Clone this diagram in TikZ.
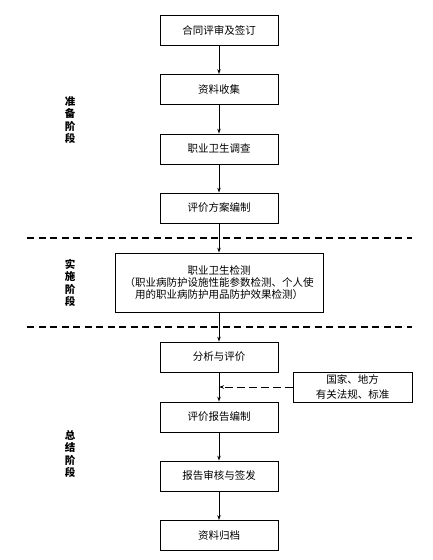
\documentclass[tikz,border=0pt]{standalone}
\usepackage{fontspec}
\setmainfont{Noto Sans CJK SC}
\usetikzlibrary{positioning,arrows.meta,calc}

\begin{document}
\begin{tikzpicture}[x=1bp,y=-1bp,
    box/.style={rectangle,draw,line width=0.8bp,minimum width=118bp,minimum height=30bp,inner sep=1bp,font=\fontsize{10.5bp}{11.8bp}\selectfont},
    bigbox/.style={box,minimum width=208bp,minimum height=59bp,align=center},
    refbox/.style={box,minimum width=119bp,align=center,font=\fontsize{10.5bp}{15bp}\selectfont},
    stage/.style={align=center,font=\fontsize{10.5bp}{12.5bp}\selectfont\bfseries},
    arrow/.style={-{Stealth[length=5bp,width=3.5bp]},line width=0.8bp},
    divider/.style={line width=1.2bp,dash pattern=on 7bp off 4.5bp}
]

\def \BOXX {219}; % centre line of the flow

\useasboundingbox (0,0) rectangle (432,560);

% Steps of the flow
\foreach \y/\name/\txt in {30/contract/合同评审及签订, 89.5/collect/资料收集, 149/survey/职业卫生调查, 208/plan/评价方案编制, 357/analyse/分析与评价, 417/report/评价报告编制, 476/review/报告审核与签发, 535.5/archive/资料归档} {
    \node[box] (\name) at (\BOXX,\y) {\txt};
}

% Measuring step
\node[bigbox] (measure) at (\BOXX,282.5) {职业卫生检测\\（职业病防护设施性能参数检测、个人使\\用的职业病防护用品防护效果检测）};

% Connect the steps
\foreach \a/\b in {contract/collect, collect/survey, survey/plan, plan/measure, measure/analyse, analyse/report, report/review, review/archive} {
    \draw[arrow] (\a) -- (\b);
}

% Laws and standards
\node[refbox] (laws) at (352.5,387) {国家、地方\\有关法规、标准};
\coordinate (join) at (laws.west -| report);
\draw[arrow,line width=1bp,dash pattern=on 8bp off 4bp] (laws.west) -- (join);

% Stage dividers
\foreach \y in {238,327} {
    \draw[divider] (27,\y) -- (412,\y);
}

% Stage labels
\node[stage] (prepare) at (70,120) {准\\备\\阶\\段};
\node[stage] (carry) at (70,283) {实\\施\\阶\\段};
\node[stage] (summary) at (70,454) {总\\结\\阶\\段};

\end{tikzpicture}
\end{document}
